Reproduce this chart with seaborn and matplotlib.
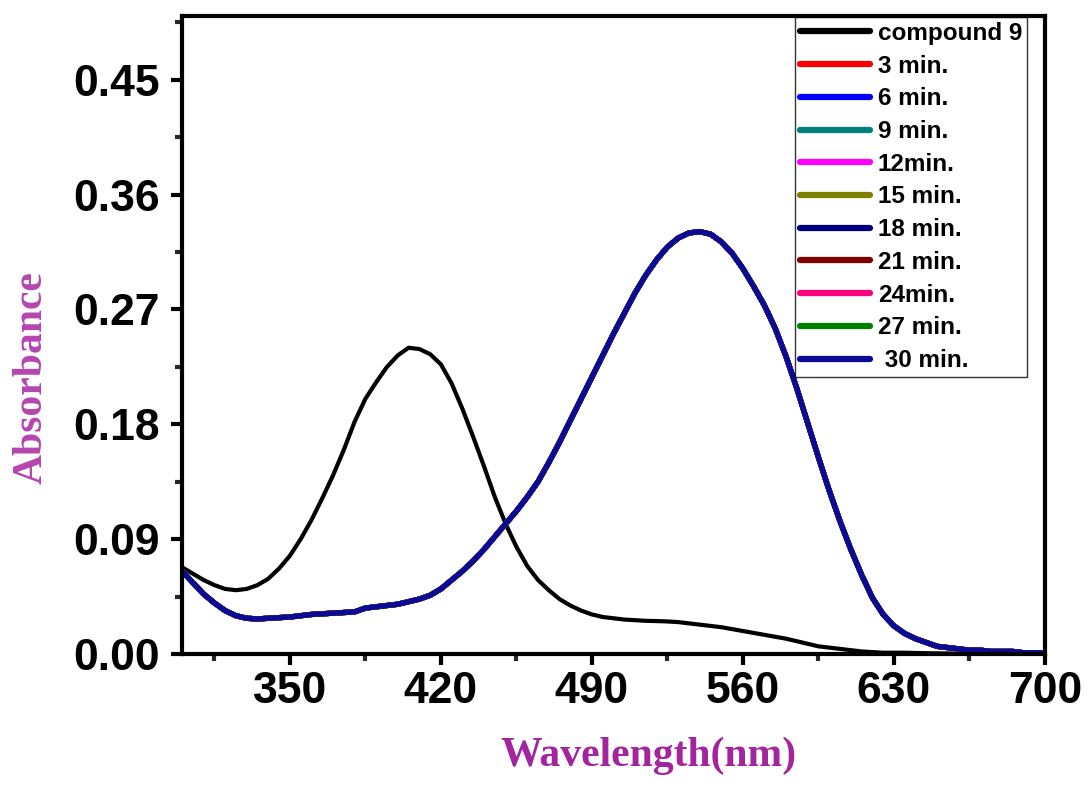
import matplotlib
matplotlib.use("Agg")
import matplotlib.pyplot as plt
import seaborn as sns
import pandas as pd
from matplotlib.ticker import FixedLocator

# Wavelength grid (nm)
wavelength = list(range(300, 705, 5))

# Absorbance of compound 9 (before irradiation)
compound9 = [
    0.068, 0.063, 0.058, 0.054, 0.051, 0.050, 0.051, 0.054, 0.059, 0.067,
    0.077, 0.090, 0.105, 0.122, 0.140, 0.160, 0.182, 0.200, 0.213, 0.225,
    0.234, 0.240, 0.239, 0.235, 0.227, 0.212, 0.192, 0.170, 0.147, 0.123,
    0.102, 0.084, 0.069, 0.058, 0.050, 0.043, 0.038, 0.034, 0.031, 0.029,
    0.028, 0.027, 0.0265, 0.026, 0.0258, 0.0255, 0.025, 0.024, 0.023, 0.022,
    0.021, 0.0195, 0.018, 0.0165, 0.015, 0.0135, 0.012, 0.010, 0.008, 0.006,
    0.005, 0.004, 0.003, 0.002, 0.0015, 0.001, 0.001, 0.001, 0.0008, 0.0006,
    0.0005, 0.0004, 0.0003, 0.0002, 0.0002, 0.0001, 0.0001, 0.0, 0.0, 0.0,
    0.0,
]

# Absorbance recorded at each irradiation time (spectra coincide)
timed_spectrum = [
    0.065, 0.056, 0.047, 0.040, 0.034, 0.030, 0.028, 0.0275, 0.028, 0.0285,
    0.029, 0.030, 0.031, 0.0315, 0.032, 0.0325, 0.033, 0.036, 0.037, 0.038,
    0.039, 0.041, 0.043, 0.046, 0.051, 0.058, 0.065, 0.073, 0.082, 0.092,
    0.102, 0.112, 0.123, 0.135, 0.150, 0.166, 0.183, 0.200, 0.217, 0.234,
    0.251, 0.267, 0.283, 0.297, 0.309, 0.319, 0.326, 0.330, 0.331, 0.329,
    0.323, 0.314, 0.302, 0.288, 0.273, 0.255, 0.233, 0.208, 0.181, 0.154,
    0.128, 0.104, 0.082, 0.062, 0.044, 0.031, 0.022, 0.016, 0.012, 0.009,
    0.006, 0.005, 0.004, 0.003, 0.003, 0.002, 0.002, 0.002, 0.001, 0.001,
    0.001,
]

series_labels = ["compound 9", "3 min.", "6 min.", "9 min.", "12min.", "15 min.",
                 "18 min.", "21 min.", "24min.", "27 min.", " 30 min."]
series_colors = ["#000000", "#FF0000", "#0000FF", "#008080", "#FF00FF", "#808000",
                 "#000080", "#800000", "#FF0080", "#008000", "#0A0A96"]

y_ticks = [0.00, 0.09, 0.18, 0.27, 0.36, 0.45]
x_ticks = [350, 420, 490, 560, 630, 700]

sns.set_style("ticks")
plt.rcParams["font.family"] = ["Liberation Sans", "DejaVu Sans"]
plt.rcParams["text.color"] = "black"

fig = plt.figure(figsize=(10.89, 7.92), dpi=100)
W, H = 1089, 792
ax = fig.add_axes([182 / W, 1 - 654 / H, (1045 - 182) / W, (654 - 16) / H])

frames = []
for i, lab in enumerate(series_labels):
    vals = compound9 if i == 0 else timed_spectrum
    frames.append(pd.DataFrame({"Wavelength": wavelength, "Absorbance": vals, "series": lab}))
df = pd.concat(frames, ignore_index=True)

for i, (lab, col) in enumerate(zip(series_labels, series_colors)):
    sub = df[df["series"] == lab]
    sns.lineplot(data=sub, x="Wavelength", y="Absorbance", color=col,
                 linewidth=3.0 if i == 0 else 3.8, label=lab, ax=ax, legend=False)

ax.set_xlim(300, 700)
ax.set_ylim(0, 0.5)
ax.xaxis.set_major_locator(FixedLocator(x_ticks))
ax.xaxis.set_minor_locator(FixedLocator([315, 385, 455, 525, 595, 665]))
ax.yaxis.set_major_locator(FixedLocator(y_ticks))
ax.yaxis.set_minor_locator(FixedLocator([0.045, 0.135, 0.225, 0.315, 0.405, 0.495]))
ax.set_xticklabels([f"{v}" for v in x_ticks])
ax.set_yticklabels([f"{v:.2f}" for v in y_ticks])

for side in ["left", "right", "top", "bottom"]:
    ax.spines[side].set_visible(True)
    ax.spines[side].set_linewidth(3)
    ax.spines[side].set_color("black")

ax.tick_params(axis="both", which="major", direction="out", length=8, width=3,
               labelsize=32, colors="black")
ax.tick_params(axis="both", which="minor", direction="out", length=5, width=3)
ax.tick_params(axis="x", which="major", pad=4)
ax.tick_params(axis="y", which="major", pad=8)
for t in ax.get_xticklabels() + ax.get_yticklabels():
    t.set_fontweight("bold")

ax.set_xlabel("Wavelength(nm)", fontsize=30, fontweight="bold",
              family="Liberation Serif", color="#A3249F")
ax.set_ylabel("Absorbance", fontsize=30, fontweight="bold",
              family="Liberation Serif", color="#B446B0")
ax.xaxis.set_label_coords(0.541, -0.13)
ax.yaxis.set_label_coords(-0.152, 0.433)

handles, labels = ax.get_legend_handles_labels()
leg = ax.legend(handles, labels, loc="upper left",
                bbox_to_anchor=(795 / W, 1 - 17 / H), bbox_transform=fig.transFigure,
                prop={"family": "Liberation Sans", "weight": "bold", "size": 17.5},
                labelcolor="black",
                handlelength=2.9, handletextpad=0.3, labelspacing=0.4,
                borderpad=0.2, borderaxespad=0, fancybox=False)
frame = leg.get_frame()
frame.set_facecolor("none")
frame.set_edgecolor("black")
frame.set_linewidth(1)
for line in leg.get_lines():
    line.set_linewidth(4.5)

fig.savefig("out.png", dpi=100)
